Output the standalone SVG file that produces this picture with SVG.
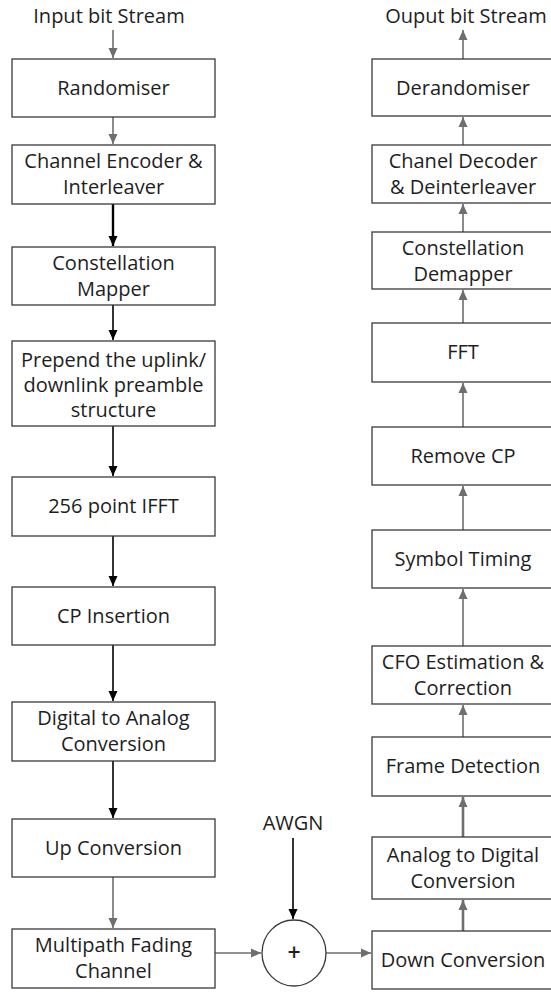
<svg xmlns="http://www.w3.org/2000/svg" width="551" height="992" viewBox="0 0 551 992">
<style>
.box{fill:#fff;stroke:#3a3a3a;stroke-width:1.3}
.t{font-family:"Open Sans","Noto Sans","DejaVu Sans",sans-serif;font-size:20px;fill:#1e1e1e;text-anchor:middle}
.plus{font-size:23px;font-weight:600}
.g{stroke:#6e6e6e;stroke-width:1.6;fill:none}
.gt{stroke:#6e6e6e;stroke-width:2.6;fill:none}
.k{stroke:#000;stroke-width:1.6;fill:none}
.kt{stroke:#000;stroke-width:2.4;fill:none}
</style>
<defs>
<marker id="ag" markerUnits="userSpaceOnUse" markerWidth="12" markerHeight="12" viewBox="0 0 12 12" refX="11" refY="6" orient="auto"><path d="M1,1.5 L11,6 L1,10.5 Z" fill="#6e6e6e"/></marker>
<marker id="ak" markerUnits="userSpaceOnUse" markerWidth="12" markerHeight="12" viewBox="0 0 12 12" refX="11" refY="6" orient="auto"><path d="M1,1.5 L11,6 L1,10.5 Z" fill="#000"/></marker>
</defs>
<g id="connectors">
<line class="g" x1="113" y1="30" x2="113" y2="58" marker-end="url(#ag)"/>
<line class="g" x1="113" y1="117" x2="113" y2="144" marker-end="url(#ag)"/>
<line class="kt" x1="113" y1="204" x2="113" y2="246" marker-end="url(#ak)"/>
<line class="k" x1="113" y1="305" x2="113" y2="340" marker-end="url(#ak)"/>
<line class="k" x1="113" y1="426" x2="113" y2="476" marker-end="url(#ak)"/>
<line class="k" x1="113" y1="536" x2="113" y2="586" marker-end="url(#ak)"/>
<line class="k" x1="113" y1="645" x2="113" y2="701" marker-end="url(#ak)"/>
<line class="k" x1="113" y1="761" x2="113" y2="818" marker-end="url(#ak)"/>
<line class="g" x1="113" y1="877" x2="113" y2="928" marker-end="url(#ag)"/>
<line class="g" x1="215" y1="953" x2="261" y2="953" marker-end="url(#ag)"/>
<line class="g" x1="326" y1="953" x2="371" y2="953" marker-end="url(#ag)"/>
<line class="k" x1="293" y1="838" x2="293" y2="919" marker-end="url(#ak)"/>
<line class="gt" x1="463" y1="931" x2="463" y2="900" marker-end="url(#ag)"/>
<line class="gt" x1="463" y1="837" x2="463" y2="797" marker-end="url(#ag)"/>
<line class="g" x1="463" y1="737" x2="463" y2="705" marker-end="url(#ag)"/>
<line class="g" x1="463" y1="646" x2="463" y2="589" marker-end="url(#ag)"/>
<line class="g" x1="463" y1="530" x2="463" y2="486" marker-end="url(#ag)"/>
<line class="g" x1="463" y1="427" x2="463" y2="383" marker-end="url(#ag)"/>
<line class="g" x1="463" y1="323" x2="463" y2="290" marker-end="url(#ag)"/>
<line class="g" x1="463" y1="232" x2="463" y2="204" marker-end="url(#ag)"/>
<line class="g" x1="463" y1="145" x2="463" y2="117" marker-end="url(#ag)"/>
<line class="g" x1="463" y1="59" x2="463" y2="30" marker-end="url(#ag)"/>
</g>
<text class="t" x="109" y="23">Input bit Stream</text>
<text class="t" x="466" y="23">Ouput bit Stream</text>
<text class="t" x="293" y="830">AWGN</text>
<g id="randomiser"><rect class="box" x="12" y="59" width="203" height="58"/><text class="t" x="113.5" y="95">Randomiser</text></g>
<g id="encoder"><rect class="box" x="12" y="145" width="203" height="59"/><text class="t" x="113.5" y="168">Channel Encoder &amp;</text><text class="t" x="113.5" y="194">Interleaver</text></g>
<g id="mapper"><rect class="box" x="12" y="247" width="203" height="58"/><text class="t" x="113.5" y="270">Constellation</text><text class="t" x="113.5" y="296">Mapper</text></g>
<g id="prepend"><rect class="box" x="12" y="341" width="203" height="85"/><text class="t" x="113.5" y="367">Prepend the uplink/</text><text class="t" x="113.5" y="392">downlink preamble</text><text class="t" x="113.5" y="417">structure</text></g>
<g id="ifft"><rect class="box" x="12" y="477" width="203" height="59"/><text class="t" x="113.5" y="513">256 point IFFT</text></g>
<g id="cpins"><rect class="box" x="12" y="587" width="203" height="58"/><text class="t" x="113.5" y="623">CP Insertion</text></g>
<g id="dac"><rect class="box" x="12" y="702" width="203" height="59"/><text class="t" x="113.5" y="725">Digital to Analog</text><text class="t" x="113.5" y="751">Conversion</text></g>
<g id="upconv"><rect class="box" x="12" y="819" width="203" height="58"/><text class="t" x="113.5" y="855">Up Conversion</text></g>
<g id="multipath"><rect class="box" x="12" y="929" width="203" height="59"/><text class="t" x="113.5" y="952">Multipath Fading</text><text class="t" x="113.5" y="978">Channel</text></g>
<g id="adder"><ellipse class="box" cx="294" cy="953" rx="32" ry="33"/><text class="t plus" x="294" y="961">+</text></g>
<g id="derandomiser"><rect class="box" x="372" y="59" width="183" height="57"/><text class="t" x="463" y="95">Derandomiser</text></g>
<g id="decoder"><rect class="box" x="372" y="145" width="183" height="58"/><text class="t" x="463" y="168">Chanel Decoder</text><text class="t" x="463" y="194">&amp; Deinterleaver</text></g>
<g id="demapper"><rect class="box" x="372" y="232" width="183" height="57"/><text class="t" x="463" y="255">Constellation</text><text class="t" x="463" y="281">Demapper</text></g>
<g id="fft"><rect class="box" x="372" y="323" width="183" height="59"/><text class="t" x="463" y="359">FFT</text></g>
<g id="removecp"><rect class="box" x="372" y="427" width="183" height="58"/><text class="t" x="463" y="463">Remove CP</text></g>
<g id="symtiming"><rect class="box" x="372" y="530" width="183" height="58"/><text class="t" x="463" y="566">Symbol Timing</text></g>
<g id="cfo"><rect class="box" x="372" y="646" width="183" height="58"/><text class="t" x="463" y="669">CFO Estimation &amp;</text><text class="t" x="463" y="695">Correction</text></g>
<g id="framedet"><rect class="box" x="372" y="737" width="183" height="59"/><text class="t" x="463" y="773">Frame Detection</text></g>
<g id="adc"><rect class="box" x="372" y="837" width="183" height="62"/><text class="t" x="463" y="862">Analog to Digital</text><text class="t" x="463" y="888">Conversion</text></g>
<g id="downconv"><rect class="box" x="372" y="931" width="183" height="58"/><text class="t" x="463" y="967">Down Conversion</text></g>
</svg>
